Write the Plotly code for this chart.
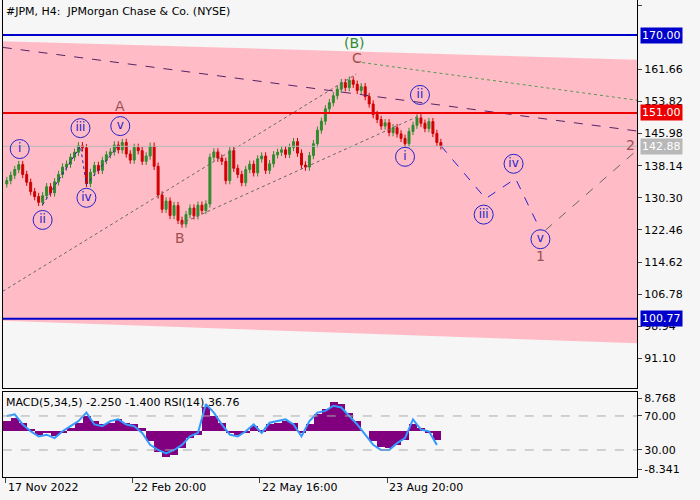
import plotly.graph_objects as go

closes = [134.5,135.8,137.2,138.4,136.0,134.1,131.8,130.6,129.2,130.8,
          133.0,131.5,134.2,136.0,137.8,138.5,140.2,141.4,143.0,142.5,
          133.8,136.5,138.2,137.0,139.4,140.8,141.5,143.2,142.0,143.8,
          141.0,139.5,142.6,141.8,139.2,140.5,142.9,138.0,131.0,127.5,
          129.5,126.0,128.4,124.8,123.9,126.2,127.8,125.9,128.5,127.2,
          128.8,140.2,141.5,140.0,139.2,134.5,141.8,137.5,136.0,134.0,
          137.2,138.5,136.4,139.8,140.5,137.0,138.6,140.8,141.4,142.0,
          140.9,142.6,144.0,141.2,138.3,137.8,140.6,143.5,146.8,149.0,
          152.0,153.5,155.2,156.8,158.4,157.2,159.0,158.0,156.5,157.4,
          155.0,153.2,150.6,149.4,147.8,148.6,146.2,147.4,145.9,144.8,
          143.5,146.5,148.0,149.8,148.5,147.2,148.9,146.0,143.8,143.0]
hist = [64,68,62,55,48,50,46,50,56,62,70,64,60,62,66,62,60,56,40,28,22,24,32,44,48,
        80,70,62,50,48,50,58,54,60,62,64,62,50,60,72,78,86,84,74,64,52,40,34,32,36,
        42,60,56,50,42]
rsi = [70,72,60,52,46,48,44,52,58,64,74,60,58,64,66,60,58,50,36,30,26,30,36,46,50,
       84,74,60,48,46,52,60,50,62,64,66,60,46,64,74,76,82,80,70,60,48,36,30,30,38,
       44,66,54,52,36]
tick_labels = ["17 Nov 2022", "22 Feb 20:00", "22 May 16:00", "23 Aug 20:00"]
tick_pos = [3, 130, 258, 386]
price_ticks = [177.34,161.66,153.82,145.98,138.14,130.30,122.46,114.62,106.78,98.94,91.10]
levels = {"170.00": (170.0, "#0000cc"), "151.00": (151.0, "#ee0000"),
          "142.88": (142.88, "#b8b8b8"), "100.77": (100.77, "#0000cc")}

xs = [4 + 4 * i for i in range(len(closes))]
opens = [closes[0] - 0.8] + closes[:-1]
highs = [max(o, c) + 0.9 for o, c in zip(opens, closes)]
lows = [min(o, c) - 0.9 for o, c in zip(opens, closes)]

fig = go.Figure()
fig.add_shape(type="path", path="M 0 168.5 L 637 164.0 L 637 94.8 L 0 100.3 Z", xref="x", yref="y",
              fillcolor="#ffbcc6", line=dict(width=0), layer="below")
fig.add_trace(go.Candlestick(x=xs, open=opens, high=highs, low=lows, close=closes,
                             increasing=dict(line=dict(color="#2e8b2e", width=1), fillcolor="#2e8b2e"),
                             decreasing=dict(line=dict(color="#d00000", width=1), fillcolor="#d00000"),
                             whiskerwidth=0, xaxis="x", yaxis="y"))
def seg(x, y, color, dash, w=1):
    fig.add_trace(go.Scatter(x=x, y=y, mode="lines", line=dict(color=color, dash=dash, width=w),
                             hoverinfo="skip", xaxis="x", yaxis="y"))
seg([0, 640], [167.0, 146.5], "#552266", "dash")
seg([355, 640], [163.5, 154.0], "#559955", "dot")
seg([0, 355], [107.5, 160.5], "#666666", "dot")
seg([178, 420], [123.9, 150.5], "#666666", "dot")
seg([545, 635], [122.4, 141.5], "#666666", "dash")
seg([40, 78, 84, 118], [128.6, 142.9, 133.5, 143.6], "#2222aa", "dot")
seg([440, 485, 515, 540], [143.0, 130.1, 135.0, 122.4], "#2222cc", "dash")
for t, (v, c) in levels.items():
    seg([0, 640], [v, v], c, "solid", 2 if t != "142.88" else 1)

circ = [(17, 142.2, "i"), (40, 124.9, "ii"), (78, 147.3, "iii"), (84, 130.3, "iv"), (118, 147.8, "v"),
        (404, 140.3, "i"), (419, 155.4, "ii"), (483, 126.2, "iii"), (513, 138.6, "iv"), (540, 120.2, "v")]
fig.add_trace(go.Scatter(x=[c[0] for c in circ], y=[c[1] for c in circ], mode="markers+text",
                         text=[c[2] for c in circ], textfont=dict(color="#2222cc", size=12),
                         marker=dict(symbol="circle-open", size=19, color="#2222cc", line=dict(width=1)),
                         xaxis="x", yaxis="y", hoverinfo="skip"))
brown = [(118, 152.7, "A"), (178, 120.5, "B"), (356, 164.4, "C"), (540, 116.2, "1"), (630, 143.2, "2")]
for x, y, t in brown:
    fig.add_annotation(x=x, y=y, text=t, showarrow=False, font=dict(color="#a05050", size=14), xref="x", yref="y")
fig.add_annotation(x=353, y=168.1, text="(B)", showarrow=False, font=dict(color="#2e8b2e", size=14), xref="x", yref="y")

hx = [4 + 8 * i for i in range(len(hist))]
fig.add_trace(go.Bar(x=hx, y=[h - 52 for h in hist], base=52, width=8, marker=dict(color="#800080", line=dict(width=0)),
                     xaxis="x2", yaxis="y2"))
fig.add_trace(go.Scatter(x=hx, y=rsi, mode="lines", line=dict(color="#3399ff", width=2), xaxis="x2", yaxis="y2"))
for v in (70, 30):
    fig.add_trace(go.Scatter(x=[0, 640], y=[v, v], mode="lines", line=dict(color="#aaaaaa", dash="dash", width=1),
                             xaxis="x2", yaxis="y2"))

fig.add_annotation(xref="paper", yref="paper", x=0.006, y=0.995, xanchor="left", yanchor="top", showarrow=False,
                   text="#JPM, H4:  JPMorgan Chase & Co. (NYSE)", font=dict(size=11, color="black"))
fig.add_annotation(xref="paper", yref="paper", x=0.006, y=0.212, xanchor="left", yanchor="top", showarrow=False,
                   text="MACD(5,34,5) -2.250 -1.400 RSI(14) 36.76", font=dict(size=11, color="black"))
for t, (v, c) in levels.items():
    fig.add_annotation(x=1, xref="paper", y=v, yref="y", xanchor="left", text=t, showarrow=False,
                       bgcolor=c, font=dict(color="white", size=11), borderpad=1, xshift=-60)
for p, t in zip(tick_pos, tick_labels):
    fig.add_annotation(x=p, xref="x2", y=0.043, yref="paper", xanchor="left", yanchor="top", text=t,
                       showarrow=False, font=dict(size=11, color="black"))

ax = dict(showgrid=False, zeroline=False, mirror=True, showline=True, linecolor="black", linewidth=1)
fig.update_layout(
    width=700, height=500, margin=dict(l=0, r=0, t=0, b=0), paper_bgcolor="#f6f6f6", plot_bgcolor="#f6f6f6",
    showlegend=False, font=dict(family="DejaVu Sans", size=11, color="black"),
    xaxis=dict(domain=[0.004, 0.91], range=[0, 637], showticklabels=False, ticks="", rangeslider=dict(visible=False), **ax),
    yaxis=dict(domain=[0.224, 1], range=[83.9, 178.56], side="right", tickvals=price_ticks,
               ticktext=[f"{v:.2f}" for v in price_ticks], ticks="outside", ticklen=4, **ax),
    xaxis2=dict(domain=[0.004, 0.91], range=[0, 637], anchor="y2", tickvals=tick_pos, ticktext=["", "", "", ""],
                ticks="outside", ticklen=5, **ax),
    yaxis2=dict(domain=[0.046, 0.216], range=[-1.8, 98.2], side="right", tickvals=[91, 70, 30, 7.6],
                ticktext=["8.768", "70.00", "30.00", "-8.341"], ticks="outside", ticklen=4, anchor="x2", **ax),
    bargap=0,
)
fig.write_html("out.html", config={"displayModeBar": False},
               post_script="document.body.style.margin='0';document.body.style.overflow='hidden';")
